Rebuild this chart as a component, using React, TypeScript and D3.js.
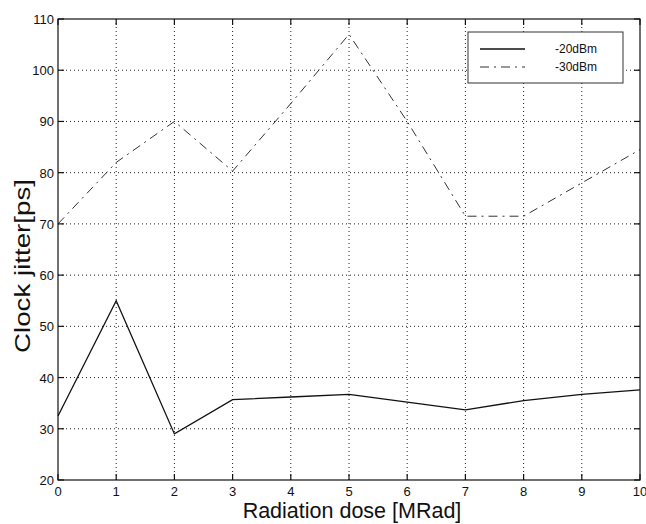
import React, { useEffect, useRef } from "react";
import * as d3 from "d3";

// Radiation dose in MRad
const doses = [0, 1, 2, 3, 4, 5, 6, 7, 8, 9, 10];
// Clock jitter in ps for each input power
const jitter20 = [32.5, 55, 29, 35.7, 36.2, 36.7, 35.2, 33.7, 35.5, 36.7, 37.6];
const jitter30 = [70, 82, 90, 80.3, 93.5, 107, 90, 71.5, 71.5, 78, 84.5];
const seriesNames = ["-20dBm", "-30dBm"];
const xTicks = [0, 1, 2, 3, 4, 5, 6, 7, 8, 9, 10];
const yTicks = [20, 30, 40, 50, 60, 70, 80, 90, 100, 110];

const App = () => {
  const svgRef = useRef<SVGSVGElement | null>(null);

  useEffect(() => {
    if (!svgRef.current) return;
    const root = d3.select(svgRef.current);
    root.selectAll("*").remove();

    const width = 646;
    const height = 524;
    const margin = { top: 19, right: 6, bottom: 44, left: 58 };
    const font = "'Liberation Sans', Arial, sans-serif";

    const x = d3.scaleLinear().domain([0, 10]).range([margin.left, width - margin.right]);
    const y = d3.scaleLinear().domain([20, 110]).range([height - margin.bottom, margin.top]);

    const svg = root.attr("width", width).attr("height", height).style("font-family", font);

    svg.append("rect").attr("width", width).attr("height", height).attr("fill", "white");

    // dotted grid
    const grid = svg.append("g").attr("stroke", "#222").attr("stroke-width", 1).attr("stroke-dasharray", "1,3");
    xTicks.slice(1, -1).forEach((t) => {
      grid.append("line").attr("x1", x(t)).attr("x2", x(t)).attr("y1", y(20)).attr("y2", y(110));
    });
    yTicks.slice(1, -1).forEach((t) => {
      grid.append("line").attr("x1", x(0)).attr("x2", x(10)).attr("y1", y(t)).attr("y2", y(t));
    });

    // lines
    const line = d3
      .line<number>()
      .x((_, i) => x(doses[i]))
      .y((d) => y(d));

    svg.append("path")
      .datum(jitter20)
      .attr("d", line)
      .attr("fill", "none")
      .attr("stroke", "#111")
      .attr("stroke-width", 1.3);

    svg.append("path")
      .datum(jitter30)
      .attr("d", line)
      .attr("fill", "none")
      .attr("stroke", "#333")
      .attr("stroke-width", 1)
      .attr("stroke-dasharray", "9,5,2,5");

    // axes box
    svg.append("rect")
      .attr("x", x(0))
      .attr("y", y(110))
      .attr("width", x(10) - x(0))
      .attr("height", y(20) - y(110))
      .attr("fill", "none")
      .attr("stroke", "#111")
      .attr("stroke-width", 1.2);

    // ticks inside on all four sides
    const tickLen = 6;
    const ticks = svg.append("g").attr("stroke", "#111").attr("stroke-width", 1.2);
    xTicks.forEach((t) => {
      ticks.append("line").attr("x1", x(t)).attr("x2", x(t)).attr("y1", y(20)).attr("y2", y(20) - tickLen);
      ticks.append("line").attr("x1", x(t)).attr("x2", x(t)).attr("y1", y(110)).attr("y2", y(110) + tickLen);
    });
    yTicks.forEach((t) => {
      ticks.append("line").attr("x1", x(0)).attr("x2", x(0) + tickLen).attr("y1", y(t)).attr("y2", y(t));
      ticks.append("line").attr("x1", x(10)).attr("x2", x(10) - tickLen).attr("y1", y(t)).attr("y2", y(t));
    });

    // tick labels
    svg.append("g")
      .selectAll("text")
      .data(xTicks)
      .enter()
      .append("text")
      .attr("x", (d) => x(d))
      .attr("y", y(20) + 16)
      .attr("text-anchor", "middle")
      .attr("font-size", 13)
      .attr("fill", "#111")
      .text((d) => d);

    svg.append("g")
      .selectAll("text")
      .data(yTicks)
      .enter()
      .append("text")
      .attr("x", x(0) - 4)
      .attr("y", (d) => y(d) + 5)
      .attr("text-anchor", "end")
      .attr("font-size", 13)
      .attr("fill", "#111")
      .text((d) => d);

    // axis titles
    svg.append("text")
      .attr("x", (x(0) + x(10)) / 2 + 3)
      .attr("y", 518)
      .attr("text-anchor", "middle")
      .attr("font-size", 21.5)
      .attr("fill", "#111")
      .text("Radiation dose [MRad]");

    svg.append("text")
      .attr("transform", "translate(30, 266) rotate(-90)")
      .attr("text-anchor", "middle")
      .attr("font-size", 22)
      .attr("textLength", 174)
      .attr("lengthAdjust", "spacingAndGlyphs")
      .attr("fill", "#111")
      .text("Clock jitter[ps]");

    // legend
    const legend = svg.append("g").attr("transform", "translate(468, 32)");
    legend.append("rect")
      .attr("width", 155)
      .attr("height", 51)
      .attr("fill", "white")
      .attr("stroke", "#333")
      .attr("stroke-width", 1);
    seriesNames.forEach((name, i) => {
      const ly = 17 + i * 18;
      legend.append("line")
        .attr("x1", 12)
        .attr("x2", 57)
        .attr("y1", ly)
        .attr("y2", ly)
        .attr("stroke", i === 0 ? "#111" : "#333")
        .attr("stroke-width", i === 0 ? 1.3 : 1)
        .attr("stroke-dasharray", i === 0 ? null : "9,5,2,5");
      legend.append("text")
        .attr("x", 87)
        .attr("y", ly + 4)
        .attr("font-size", 12)
        .attr("fill", "#111")
        .text(name);
    });
  }, []);

  return <svg ref={svgRef} style={{ display: "block", position: "absolute", left: 0, top: 0 }}></svg>;
};

export default App;
